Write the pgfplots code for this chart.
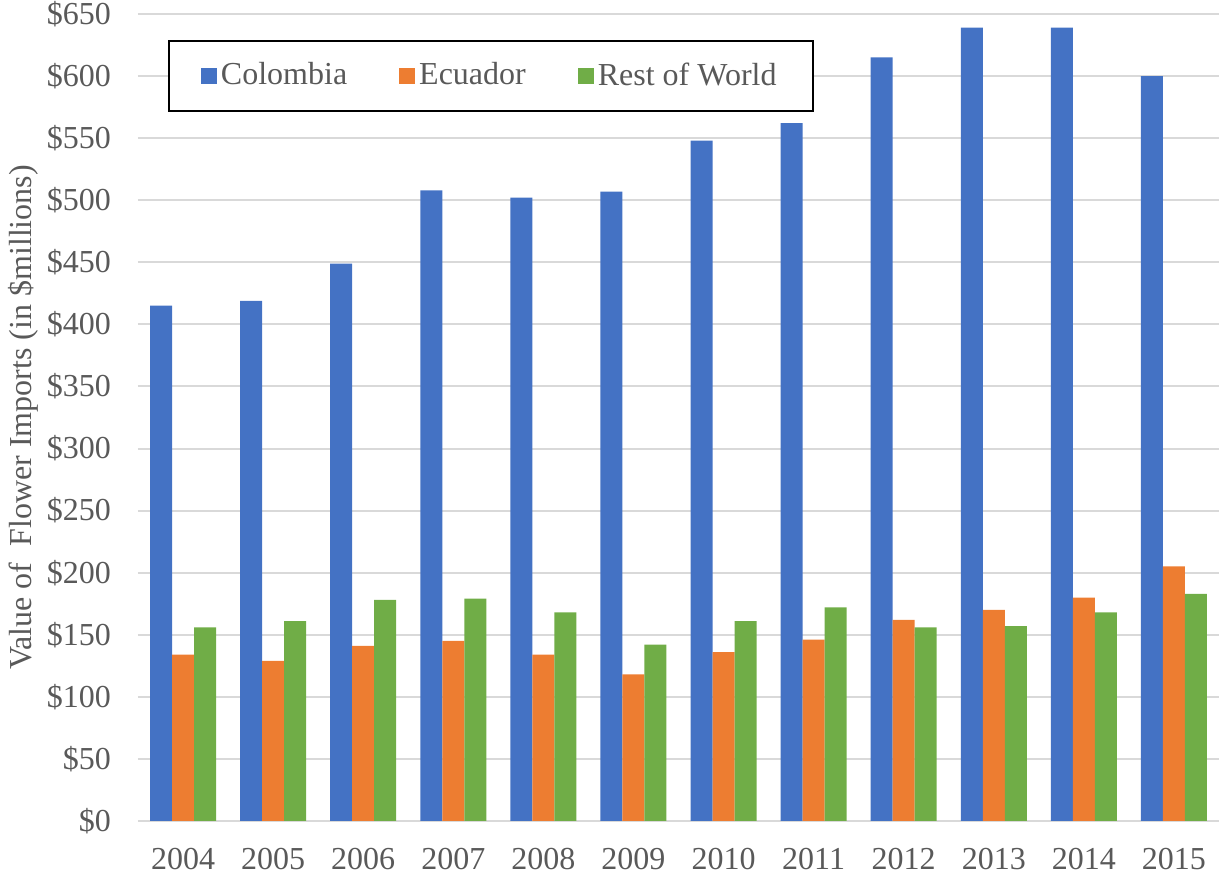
\documentclass[border=0pt]{standalone}
\usepackage{pgfplots}
\pgfplotsset{compat=1.18}
\usepackage{fontspec}
\setmainfont{Liberation Serif}
\definecolor{cblue}{HTML}{4472C4}
\definecolor{corange}{HTML}{ED7D31}
\definecolor{cgreen}{HTML}{70AD47}
\definecolor{txt}{HTML}{595959}
\definecolor{grd}{HTML}{D9D9D9}
\begin{document}
\fontsize{16pt}{19pt}\selectfont
\begin{tikzpicture}
\begin{axis}[
  name=ax,
  scale only axis,
  width=540.5pt, height=403.5pt,
  ybar=0pt, bar width=11pt,
  xmin=-0.5, xmax=11.5,
  ymin=0, ymax=650,
  xtick={0,...,11},
  xticklabels={2004,2005,2006,2007,2008,2009,2010,2011,2012,2013,2014,2015},
  ytick={0,50,...,650},
  yticklabel={\$\pgfmathprintnumber{\tick}},
  /pgf/number format/assume math mode=true,
  tick style={draw=none},
  axis line style={draw=none},
  ymajorgrids,
  major grid style={draw=grd, line width=1pt},
  ticklabel style={font=\fontsize{16pt}{19pt}\selectfont, text=txt},
  yticklabel shift=8pt,
  xticklabel shift=4pt,
  every axis y label/.style={at={(axis description cs:0,0.5)}, rotate=90, anchor=center, yshift=57.5pt, font=\fontsize{16pt}{19pt}\selectfont, text=txt},
  ylabel={Value of\ \ Flower Imports (in \$millions)},
  legend columns=3,
  legend style={at={(axis description cs:0,1)}, anchor=north west, xshift=15pt, yshift=-13pt,
    draw=black, line width=1pt, inner xsep=16pt, inner ysep=8.75pt,
    font=\fontsize{16pt}{19pt}\selectfont, text=txt,
    /tikz/every even column/.append style={column sep=24pt}},
  legend image code/.code={\fill[#1, draw=none] (0pt,-4pt) rectangle (8pt,4pt);},
]
\addplot[fill=cblue, draw=none] coordinates {(0,415) (1,419) (2,449) (3,508) (4,502) (5,507) (6,548) (7,562) (8,615) (9,639) (10,639) (11,600)};
\addplot[fill=corange, draw=none] coordinates {(0,134) (1,129) (2,141) (3,145) (4,134) (5,118) (6,136) (7,146) (8,162) (9,170) (10,180) (11,205)};
\addplot[fill=cgreen, draw=none] coordinates {(0,156) (1,161) (2,178) (3,179) (4,168) (5,142) (6,161) (7,172) (8,156) (9,157) (10,168) (11,183)};
\legend{Colombia, Ecuador, Rest of World}
\end{axis}
\pgfresetboundingbox
\path (ax.south west) ++(-69pt,-28.5pt) coordinate (bl);
\path (ax.north east) ++(1pt,7pt) coordinate (tr);
\path (bl) rectangle (tr);
\end{tikzpicture}
\end{document}
